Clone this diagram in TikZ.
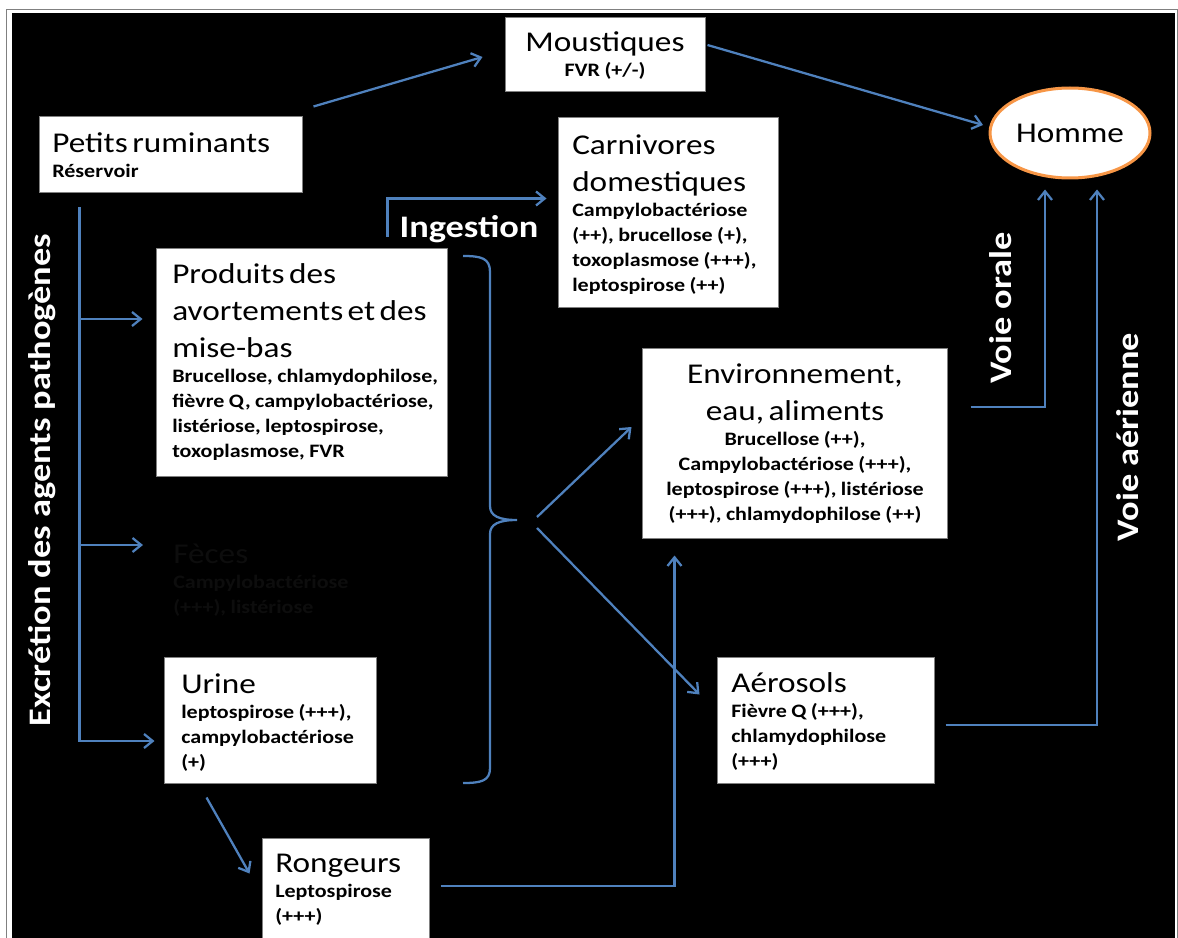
\documentclass[tikz,border=0pt]{standalone}
\usepackage{fontspec}
\setmainfont{Carlito}[FakeStretch=1.16]
\usetikzlibrary{arrows.meta,fit,shapes.geometric}
\definecolor{lineblue}{RGB}{79,129,189}
\definecolor{hommeorange}{RGB}{247,150,70}
\definecolor{boxgray}{RGB}{128,128,128}
\definecolor{hiddentext}{RGB}{13,13,13}
\newcommand\Tf{\fontsize{21.5pt}{27.75pt}\selectfont}
\newcommand\Sf{\fontsize{14.25pt}{18.75pt}\selectfont\bfseries}
\newcommand\Lf{\fontsize{23.5pt}{28pt}\selectfont\bfseries}
\begin{document}
\begin{tikzpicture}[x=0.75pt,y=-0.75pt,
 wbox/.style={draw=boxgray, line width=0.75pt, fill=white, inner sep=0pt},
 txt/.style={anchor=base west, inner sep=0pt, text width=300pt, align=left, text=black},
 ctxt/.style={anchor=base, inner sep=0pt, text width=300pt, align=center, text=black},
 conn/.style={draw=lineblue, line width=1.7pt, -{Straight Barb[length=6.5pt,width=10.5pt]}},
 plain/.style={draw=lineblue, line width=1.7pt},
 lbl/.style={text=white, font=\Lf, inner sep=0pt}]
\useasboundingbox (0,0) rectangle (1178,938);
\clip (0,0) rectangle (1178,938);
% frame
\fill[white] (0,0) rectangle (1178,938);
\draw[boxgray, line width=0.75pt] (6.5,10) rectangle (1177,950);
\fill[black] (12,13) rectangle (1175,950);

% boxes
\node[wbox, fit={(505,18) (705,92)}] (mous) {};
\node[wbox, fit={(39,117) (302,193)}] (pr) {};
\node[wbox, fit={(558,118) (778,307)}] (carn) {};
\node[wbox, fit={(156,248) (447,476)}] (prod) {};
\node[wbox, fit={(164,657) (376,783)}] (urine) {};
\node[wbox, fit={(262,838) (429,960)}] (rong) {};
\node[wbox, fit={(642,348) (947,538)}] (env) {};
\node[wbox, fit={(717,657) (934,783)}] (aer) {};
\node[draw=hommeorange, line width=2.25pt, fill=white, ellipse, inner sep=0pt,
      minimum width=120pt, minimum height=67.5pt] (homme) at (1070,133) {\Tf Homme};

% texts
\node[ctxt] (mous-t) at (605,52) {{\Tf Moustiques\par}{\Sf FVR (+/-)\par}};
\node[txt] (pr-t) at (52,153) {{\Tf Petits ruminants\par}{\Sf Réservoir\par}};
\node[txt] (carn-t) at (572,155) {{\Tf Carnivores\\domestiques\par}{\Sf Campylobactériose\\(++), brucellose (+),\\toxoplasmose (+++),\\leptospirose (++)\par}};
\node[txt] (prod-t) at (172,283) {{\Tf Produits des\\avortements et des\\mise-bas\par}{\Sf Brucellose, chlamydophilose,\\fièvre Q, campylobactériose,\\listériose, leptospirose,\\toxoplasmose, FVR\par}};
\node[txt, text=hiddentext] (feces) at (173,563) {{\Tf Fèces\par}{\Sf Campylobactériose\\(+++), listériose\par}};
\node[txt] (urine-t) at (181,693) {{\Tf Urine\par}{\Sf leptospirose (+++),\\campylobactériose\\(+)\par}};
\node[txt] (rong-t) at (275,872) {{\Tf Rongeurs\par}{\Sf Leptospirose\\(+++)\par}};
\node[ctxt] (env-t) at (795,383) {{\Tf Environnement,\\eau, aliments\par}{\Sf Brucellose (++),\\Campylobactériose (+++),\\leptospirose (+++), listériose\\(+++), chlamydophilose (++)\par}};
\node[txt] (aer-t) at (731,692) {{\Tf Aérosols\par}{\Sf Fièvre Q (+++),\\chlamydophilose\\(+++)\par}};

% white labels
\node[lbl, anchor=base] (ing) at (469,238) {Ingestion};
\node[lbl, rotate=90] (excr) at (42,480) {Excrétion des agents pathogènes};
\node[lbl, rotate=90] (orale) at (1001,308) {Voie orale};
\node[lbl, rotate=90] (aerienne) at (1128,437) {Voie aérienne};

% connectors
\draw[conn] ([shift={(11,-10)}]pr.north east) -- ([shift={(-22,2)}]mous.west);
\draw[conn] ([shift={(2,-10)}]mous.east) -- ([shift={(-87,-8)}]homme.center);
% excretion trunk
\coordinate (t1) at (80,319);
\coordinate (t2) at (80,545);
\draw[conn] ([shift={(41,14)}]pr.south west) |- ([shift={(-9,21)}]urine.west);
\draw[conn, shorten >=9.75pt] (t1) -- (t1 -| prod.west);
\draw[conn] (t2) -- ([shift={(-30,0)}]t2 -| feces.west);
% ingestion
\draw[conn] ([shift={(-60,-11)}]prod.north east) |- ([shift={(-11,-14)}]carn.west);
% brace
\draw[plain] (463,256) .. controls (481,256) and (490,258) .. (490,272) -- (490,506)
  .. controls (490,516) and (499,520) .. (517,520)
  .. controls (499,520) and (490,524) .. (490,534) -- (490,768)
  .. controls (490,781) and (481,783) .. (463,783);
\coordinate (sp1) at (537,517);
\coordinate (sp2) at (537,528);
\draw[conn] (sp1) -- ([shift={(-10,-16)}]env.west);
\draw[conn] (sp2) -- ([shift={(-17,38)}]aer.north west);
% urine -> rongeurs
\draw[conn] ([shift={(43,14)}]urine.south west) -- ([shift={(-12,36)}]rong.north west);
% rongeurs -> environnement
\draw[conn] ([shift={(11,886)}]rong.east |- 0,0) -| ([shift={(33,17)}]env.south west);
% to homme
\draw[conn] ([shift={(23,-36)}]env.east) -| ([shift={(-25,10)}]homme.south);
\draw[conn] ([shift={(11,5)}]aer.east) -| ([shift={(27,10)}]homme.south);
\end{tikzpicture}
\end{document}
